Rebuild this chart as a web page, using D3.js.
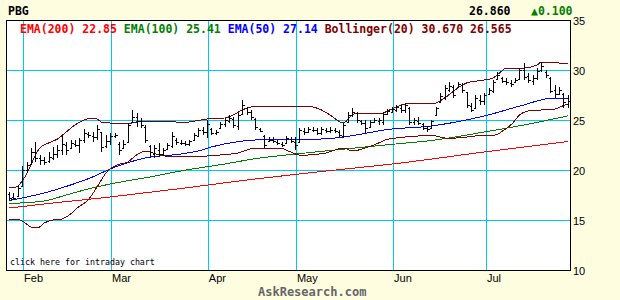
<!DOCTYPE html>
<html>
<head>
<meta charset="utf-8">
<style>
body { margin: 0; background: #fffde0; }
svg { display: block; }
.mono { font-family: 'DejaVu Sans Mono', monospace; font-weight: bold; white-space: pre; }
.axis text { font-family: 'Liberation Sans', Arial, sans-serif; font-size: 11px; fill: #000; }
</style>
</head>
<body>

<div id="diagram"></div>

<script src="https://cdn.jsdelivr.net/npm/d3@7"></script>
<script>

// daily bars, index 0 = last days of January
var highs = [17.8,17.7,18.5,20.4,20.8,22.2,22.8,21.5,21.3,21.8,22.3,22.5,23.5,22.8,23.0,23.0,23.2,24.1,23.8,23.8,
	24.5,23.8,23.5,23.7,23.7,22.8,23.0,24.7,26.0,25.7,25.2,24.5,22.5,22.5,22.7,22.2,22.7,23.8,23.2,23.0,
	22.9,23.0,23.7,24.2,24.3,25.0,24.2,24.0,24.8,25.2,25.5,25.3,25.7,27.0,26.3,26.0,25.2,24.2,23.5,23.3,
	23.3,23.0,22.8,23.4,23.3,23.3,24.2,24.2,24.3,24.3,24.2,24.3,24.2,24.3,24.2,24.0,24.7,25.8,26.2,25.8,
	25.0,25.0,25.0,25.2,25.2,25.8,26.1,26.3,26.5,26.5,26.7,26.3,25.2,25.3,24.7,24.4,25.0,26.3,27.7,28.5,
	28.8,28.5,28.8,28.7,27.8,26.7,27.5,27.5,27.7,28.2,29.0,29.8,29.3,29.2,29.0,29.2,30.2,30.7,29.7,29.5,
	30.2,30.8,30.0,29.3,28.5,28.3,27.7,27.5];
var lows = [17.0,17.1,17.3,18.3,19.7,20.5,20.8,20.5,20.5,20.7,21.0,21.2,21.5,21.5,22.2,22.3,21.7,22.7,23.2,22.8,
	23.0,21.8,22.2,22.5,23.2,21.5,22.2,22.7,24.7,24.3,24.2,22.7,21.3,21.2,21.3,21.4,22.0,22.2,22.5,22.5,
	22.4,22.4,23.0,23.3,23.5,23.2,23.5,23.5,24.2,24.3,24.7,24.2,24.0,25.5,25.5,25.0,24.0,23.8,22.2,22.8,
	22.7,22.5,22.3,22.7,22.7,22.0,22.8,23.5,23.7,23.8,23.5,23.5,23.7,23.7,23.7,23.3,23.2,24.7,25.3,24.7,
	24.5,23.7,24.2,24.7,24.5,24.5,25.5,25.7,25.8,25.7,25.7,24.5,24.5,24.5,24.0,23.8,24.2,25.5,26.7,27.0,
	27.8,27.2,28.2,27.7,26.2,25.8,26.2,26.5,26.5,27.5,27.7,29.0,28.7,28.5,28.3,28.7,29.0,29.0,28.7,28.5,
	29.0,29.8,29.2,27.7,27.2,27.5,26.2,26.2];
var opens = [17.6,17.3,17.4,18.4,20.0,20.6,21.8,21.2,21.0,20.9,21.2,21.6,22.0,22.5,22.2,22.6,22.5,23.0,23.6,23.4,
	23.3,23.8,22.4,22.9,23.4,22.6,22.2,22.8,24.8,25.3,24.9,24.3,22.4,21.6,22.0,21.6,22.1,22.4,23.0,22.7,
	22.7,22.6,23.0,23.4,24.0,23.8,24.1,23.7,24.2,24.6,24.9,25.1,24.4,25.6,26.2,25.8,25.1,24.1,23.4,22.9,
	23.0,22.8,22.6,22.7,23.1,22.8,22.8,23.9,23.8,24.0,24.0,23.7,24.0,23.9,24.0,23.8,23.4,24.8,25.5,25.7,
	24.9,24.7,24.3,24.8,24.9,24.8,25.6,25.8,26.0,26.2,26.0,26.2,24.8,24.9,24.6,24.2,24.2,25.5,26.8,27.3,
	28.0,28.3,28.3,28.5,27.8,26.4,26.2,27.0,26.9,27.6,27.9,29.1,29.2,28.9,28.7,28.8,29.1,30.0,29.4,28.9,
	29.2,30.0,29.8,29.2,28.0,27.6,27.6,26.6];
var closes = [17.2,17.2,18.2,20.0,20.5,21.8,21.2,21.0,20.8,21.3,21.6,22.0,22.6,22.0,22.7,22.5,23.0,23.7,23.5,23.3,
	24.1,22.3,22.9,23.4,23.5,22.0,22.6,24.5,25.3,24.9,24.5,23.0,21.8,22.2,21.6,22.0,22.5,23.4,22.8,22.7,
	22.6,22.9,23.5,24.0,23.8,24.6,23.7,23.8,24.6,25.0,25.2,24.5,25.5,26.5,25.8,25.3,24.3,23.9,22.5,23.0,
	22.9,22.7,22.5,23.2,22.9,22.5,24.0,23.8,24.1,24.0,23.7,24.1,23.9,24.0,23.9,23.5,24.5,25.5,25.8,25.0,
	24.7,24.2,24.8,25.0,25.0,25.6,25.9,26.1,26.3,26.0,26.5,24.8,25.0,24.7,24.2,24.1,24.9,26.2,27.4,28.2,
	28.4,27.5,28.6,28.0,26.5,26.0,27.2,26.9,27.5,28.0,28.8,29.5,28.9,28.8,28.6,29.0,30.0,29.3,29.0,29.2,
	29.9,30.4,29.5,27.9,27.6,28.0,26.76,26.86];

// indicator lines as [day index, value]
var ema200 = [[0,16.2],[10,16.7],[23,17.3],[40,18.2],[54,19.0],[70,19.8],[89,20.7],[108,21.8],[127,22.85]];
var ema100 = [[0,16.65],[8,16.9],[13,17.5],[18,18.1],[23,18.6],[32,19.3],[39,19.9],[49,20.6],[57,21.2],[63,21.5],
	[73,21.95],[89,22.65],[96,22.95],[108,23.8],[117,24.5],[127,25.41]];
var ema50 = [[0,16.95],[8,17.7],[14,18.5],[19,19.3],[23,20.1],[31,21.2],[39,21.6],[43,21.9],[46,22.3],[56,23.0],
	[64,23.1],[71,23.1],[76,23.3],[87,24.1],[95,24.35],[108,25.4],[117,26.5],[123,27.15],[127,27.14]];
var bbUpper = [[0,18.3],[1.5,18.3],[3,18.9],[4,19.6],[5,20.5],[6,21.5],[7,22.2],[9,22.7],[11,23.1],[13,23.8],
	[15,24.5],[17,25.0],[19,25.2],[20,25.1],[21,24.8],[23,24.7],[28,24.7],[30,24.9],[37,24.9],[39,24.7],
	[41,24.8],[45,25.1],[49,25.2],[51,25.5],[53,26.0],[55,26.3],[60,26.4],[66,26.4],[69,26.3],[71,26.0],
	[73,25.5],[74.5,25.0],[76,24.7],[77.5,25.3],[79,25.7],[85,25.7],[86,25.9],[88,26.3],[90,26.6],[92,26.7],
	[95,26.6],[97,26.7],[99,27.2],[102,28.2],[104,28.7],[108,29.0],[110,29.2],[112,29.9],[113,30.2],[117,30.2],
	[120,30.5],[121,30.8],[123,30.8],[125,30.7],[127,30.67]];
var bbLower = [[0,15.1],[1.5,15.1],[3,14.9],[5,14.3],[6.5,14.2],[8,14.7],[10,15.0],[12,15.1],[14,15.6],[15.5,16.2],
	[16.5,16.5],[18,17.0],[19,17.6],[20,18.3],[21,19.0],[22,19.7],[23,20.1],[24.5,20.5],[27,20.8],[29,21.5],
	[31,21.9],[32,21.8],[35.5,21.4],[45,21.4],[48,21.5],[52,21.7],[54,22.0],[56,22.2],[61.5,22.2],[64,21.8],
	[66,21.5],[68,21.5],[72,21.7],[76,22.2],[78,21.9],[81,22.2],[84,22.7],[85.5,23.0],[88,23.2],[93,23.4],
	[96,23.5],[99,23.2],[101.5,23.2],[106,23.4],[110.5,23.5],[112.5,24.0],[114.5,24.7],[116,25.5],[118,25.9],
	[121,26.0],[124,26.1],[126.4,26.5],[127,26.565]];

var monthIdx = [3.2, 23.2, 45.2, 65.2, 87.3, 108.4];
var monthNames = ['Feb', 'Mar', 'Apr', 'May', 'Jun', 'Jul'];
var priceTicks = [10, 15, 20, 25, 30, 35];
var gridTicks = [15, 20, 25, 30];

var legend = [
	{ text: 'EMA(200) 22.85 ', color: '#ff0000' },
	{ text: 'EMA(100) 25.41 ', color: '#008000' },
	{ text: 'EMA(50) 27.14 ', color: '#0000ff' },
	{ text: 'Bollinger(20) 30.670 26.565', color: '#800000' }
];

var size = { width: 620, height: 300 };
var plot = { left: 6, top: 20, right: 570, bottom: 270 };

var svg = d3.select('#diagram')
	.append('svg')
		.attr('width', size.width)
		.attr('height', size.height);

svg.append('rect')
	.attr('width', size.width)
	.attr('height', size.height)
	.attr('fill', '#fffde0');

svg.append('rect')
	.attr('x', plot.left + 0.5)
	.attr('y', plot.top + 0.5)
	.attr('width', plot.right - plot.left)
	.attr('height', plot.bottom - plot.top)
	.attr('fill', '#fff');

var x = d3.scaleLinear().domain([-0.68, 127.5]).range([plot.left, plot.right]);
var y = d3.scaleLinear().domain([10, 35]).range([plot.bottom, plot.top]);

function px(v) { return Math.round(v) + 0.5; }

// grid
svg.append('g').selectAll('line')
	.data(gridTicks)
	.enter().append('line')
		.attr('x1', plot.left).attr('x2', plot.right)
		.attr('y1', function(d) { return px(y(d)); })
		.attr('y2', function(d) { return px(y(d)); })
		.attr('stroke', '#00c8ff');

svg.append('g').selectAll('line')
	.data(monthIdx)
	.enter().append('line')
		.attr('x1', function(d) { return px(x(d)); })
		.attr('x2', function(d) { return px(x(d)); })
		.attr('y1', plot.top).attr('y2', plot.bottom)
		.attr('stroke', '#00c8ff');

// indicator lines
var line = d3.line()
	.x(function(d) { return x(d[0]); })
	.y(function(d) { return y(d[1]); })
	.curve(d3.curveMonotoneX);

[[ema200, '#ff0000'], [ema100, '#008000'], [ema50, '#0000ff'], [bbUpper, '#800000'], [bbLower, '#800000']]
	.forEach(function(s) {
		svg.append('path')
			.datum(s[0])
			.attr('d', line)
			.attr('fill', 'none')
			.attr('stroke', s[1])
			.attr('stroke-width', 1)
			.attr('shape-rendering', 'crispEdges');
	});

// price bars
var bars = svg.append('g').attr('stroke', '#000').attr('shape-rendering', 'crispEdges');
closes.forEach(function(c, i) {
	var bx = px(x(i));
	bars.append('line').attr('x1', bx).attr('x2', bx).attr('y1', y(highs[i])).attr('y2', y(lows[i]));
	bars.append('line').attr('x1', bx - 2).attr('x2', bx).attr('y1', px(y(opens[i]))).attr('y2', px(y(opens[i])));
	bars.append('line').attr('x1', bx).attr('x2', bx + 2).attr('y1', px(y(c))).attr('y2', px(y(c)));
});

// frame
svg.append('rect')
	.attr('x', plot.left + 0.5)
	.attr('y', plot.top + 0.5)
	.attr('width', plot.right - plot.left)
	.attr('height', plot.bottom - plot.top)
	.attr('fill', 'none')
	.attr('stroke', '#000');

// axes
var yAxis = svg.append('g')
	.attr('class', 'axis')
	.attr('transform', 'translate(' + plot.right + ',0)')
	.call(d3.axisRight(y).tickValues(priceTicks).tickSize(0).tickPadding(3));
yAxis.select('.domain').remove();
yAxis.selectAll('text').attr('dy', '0.45em');

var xAxis = svg.append('g')
	.attr('class', 'axis')
	.attr('transform', 'translate(0,' + plot.bottom + ')')
	.call(d3.axisBottom(x).tickValues(monthIdx).tickSize(0).tickPadding(4)
		.tickFormat(function(d, i) { return monthNames[i]; }));
xAxis.select('.domain').remove();
xAxis.selectAll('text').attr('text-anchor', 'start').attr('x', 0.5);

// header texts
svg.append('text').attr('class', 'mono')
	.attr('x', 8).attr('y', 15)
	.attr('font-size', 11.5)
	.text('PBG');

svg.append('text').attr('class', 'mono')
	.attr('x', 469).attr('y', 15)
	.attr('font-size', 11.5)
	.text('26.860');

svg.append('text').attr('class', 'mono')
	.attr('x', 531).attr('y', 15)
	.attr('font-size', 11.5)
	.attr('fill', '#008000')
	.text('\u25B20.100');

var leg = svg.append('text').attr('class', 'mono')
	.attr('x', 20).attr('y', 33)
	.attr('font-size', 11.5);
leg.selectAll('tspan')
	.data(legend)
	.enter().append('tspan')
		.attr('fill', function(d) { return d.color; })
		.text(function(d) { return d.text; });

svg.append('text')
	.attr('x', 10).attr('y', 265)
	.attr('font-family', "'DejaVu Sans Mono', monospace")
	.attr('font-size', 8.3)
	.text('click here for intraday chart');

svg.append('text').attr('class', 'mono')
	.attr('x', 258).attr('y', 296)
	.attr('font-size', 12)
	.attr('fill', '#666')
	.text('AskResearch.com');

</script>
</body>
</html>
